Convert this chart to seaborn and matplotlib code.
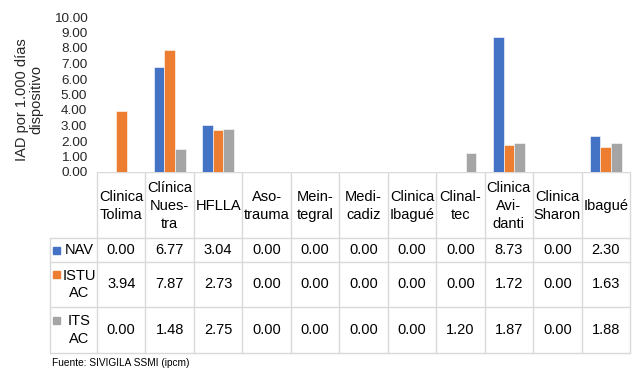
import numpy as np
import pandas as pd
import matplotlib.pyplot as plt
import seaborn as sns

categorias = ['Clinica Tolima', 'Clínica Nuestra', 'HFLLA', 'Asotrauma', 'Meintegral',
              'Medicadiz', 'Clinica Ibagué', 'Clinaltec', 'Clinica Avidanti',
              'Clinica Sharon', 'Ibagué']
etiquetas = ['Clinica\nTolima', 'Clínica\nNues-\ntra', 'HFLLA', 'Aso-\ntrauma', 'Mein-\ntegral',
             'Medi-\ncadiz', 'Clinica\nIbagué', 'Clinal-\ntec', 'Clinica\nAvi-\ndanti',
             'Clinica\nSharon', 'Ibagué']
series = ['NAV', 'ISTU AC', 'ITS AC']
series_tabla = ['NAV', 'ISTU\nAC', 'ITS\nAC']
nav = [0.00, 6.77, 3.04, 0.00, 0.00, 0.00, 0.00, 0.00, 8.73, 0.00, 2.30]
istu = [3.94, 7.87, 2.73, 0.00, 0.00, 0.00, 0.00, 0.00, 1.72, 0.00, 1.63]
its = [0.00, 1.48, 2.75, 0.00, 0.00, 0.00, 0.00, 1.20, 1.87, 0.00, 1.88]
colores = ['#4472C4', '#ED7D31', '#A5A5A5']

valores = [nav, istu, its]
df = pd.DataFrame({
    'Entidad': categorias * 3,
    'Serie': [s for s in series for _ in categorias],
    'IAD': nav + istu + its,
})

sns.set_theme(style='white')
plt.rcParams['font.family'] = ['Liberation Sans', 'DejaVu Sans']

fig = plt.figure(figsize=(6.36, 3.70), dpi=100)
ax = fig.add_axes([97 / 636, 1 - 172 / 370, 533 / 636, 155 / 370])

sns.barplot(data=df, x='Entidad', y='IAD', hue='Serie', order=categorias,
            hue_order=series, palette=colores, width=0.66, saturation=1,
            linewidth=0.4, edgecolor='white', legend=False, ax=ax)

ax.set_xlim(-0.5, len(categorias) - 0.5)
ax.set_ylim(0, 10)
ax.set_yticks(np.arange(0, 11, 1))
ax.set_yticklabels([f'{v:.2f}' for v in np.arange(0, 11, 1)], fontsize=9.7)
ax.tick_params(axis='y', length=0, pad=7)
ax.set_xticks([])
ax.set_xlabel('')
ax.set_ylabel('IAD por 1.000 días\ndispositivo', fontsize=10.5, linespacing=1.05)
ax.yaxis.set_label_coords(-0.101, 0.465)
for s in ax.spines.values():
    s.set_visible(False)

# tabla de datos debajo del gráfico (coordenadas en píxeles)
tab = fig.add_axes([0, 0, 1, 1], zorder=-1)
tab.set_xlim(0, 636)
tab.set_ylim(370, 0)
tab.axis('off')

x0, x1 = 97, 630
w = (x1 - x0) / len(categorias)
lc = '#D9D9D9'
filas = [172, 238, 262, 307, 353]
tab.plot([x0, x1], [filas[0], filas[0]], color=lc, lw=1)
for yl in filas[1:]:
    tab.plot([50, x1], [yl, yl], color=lc, lw=1)
tab.plot([50, 50], [filas[1], filas[-1]], color=lc, lw=1)
for i in range(len(categorias) + 1):
    tab.plot([x0 + i * w, x0 + i * w], [filas[0], filas[-1]], color=lc, lw=1)

for i, et in enumerate(etiquetas):
    tab.text(x0 + (i + 0.5) * w, (filas[0] + filas[1]) / 2 + 1, et, ha='center',
             va='center', fontsize=10.5, linespacing=1.35, color='black')

for j, (nombre, vals) in enumerate(zip(series_tabla, valores)):
    yc = (filas[j + 1] + filas[j + 2]) / 2
    tab.text(79, yc, nombre, ha='center', va='center', fontsize=10.5,
             linespacing=1.35, color='black')
    ysq = yc if '\n' not in nombre else yc - 10
    tab.add_patch(plt.Rectangle((53, ysq - 3.5), 7, 7, color=colores[j]))
    for i, v in enumerate(vals):
        tab.text(x0 + (i + 0.5) * w, yc, f'{v:.2f}', ha='center', va='center',
                 fontsize=10.5, color='black')

tab.text(52, 363, 'Fuente: SIVIGILA SSMI (ipcm)', ha='left', va='center',
         fontsize=7.3, color='black')

fig.savefig('out.png', dpi=100, facecolor='white')
